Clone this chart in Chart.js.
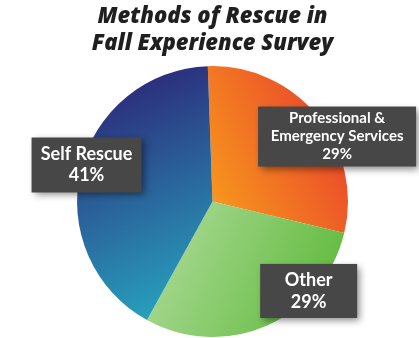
<!DOCTYPE html>
<html>
<head>
<meta charset="utf-8">
<script src="https://cdn.jsdelivr.net/npm/chart.js@4/dist/chart.umd.min.js"></script>
<style>
  html, body { margin: 0; padding: 0; background: #fff; }
  #wrap { width: 419px; height: 338px; }
</style>
</head>
<body>
<div id="wrap"><canvas id="rescueChart"></canvas></div>
<script>
const titleLines = ['Methods of Rescue in', 'Fall Experience Survey'];
const methods = ['Professional & Emergency Services', 'Other', 'Self Rescue'];
const shares = [29, 29, 41];
const boxLines = [
  ['Professional &', 'Emergency Services', '29%'],
  ['Other', '29%'],
  ['Self Rescue', '41%']
];

// gradient per slice: start/end relative to pie centre (in radii)
const sliceGradients = [
  { from: [1.0, -0.5], to: [0.0, 0.0], stops: ['#ea462b', '#f7961d'] },
  { from: [-0.2, 0.1], to: [0.9, 0.6], stops: ['#a3d68c', '#64bc41'] },
  { from: [-0.75, -0.85], to: [0.0, 0.8], stops: ['#2c2a7a', '#27a9c2'] }
];

// label boxes: centre relative to pie centre (in radii), size in px
const boxLayout = [
  { cx: 0.92, cy: -0.48, w: 158, h: 60, size: 15, lh: 18 },
  { cx: 0.71, cy: 0.66, w: 97, h: 54, size: 18, lh: 22 },
  { cx: -0.93, cy: -0.27, w: 110, h: 55, size: 18, lh: 21 }
];

function pieGeometry(chart) {
  const a = chart.chartArea;
  return {
    x: (a.left + a.right) / 2,
    y: (a.top + a.bottom) / 2,
    r: Math.min(a.right - a.left, a.bottom - a.top) / 2
  };
}

const sliceFill = (ctx) => {
  const chart = ctx.chart;
  if (!chart.chartArea) return '#999';
  const p = pieGeometry(chart);
  const g = sliceGradients[ctx.dataIndex];
  const grad = chart.ctx.createLinearGradient(
    p.x + g.from[0] * p.r, p.y + g.from[1] * p.r,
    p.x + g.to[0] * p.r, p.y + g.to[1] * p.r
  );
  grad.addColorStop(0, g.stops[0]);
  grad.addColorStop(1, g.stops[1]);
  return grad;
};

const labelBoxes = {
  id: 'labelBoxes',
  afterDatasetsDraw(chart) {
    const ctx = chart.ctx;
    const p = pieGeometry(chart);
    boxLayout.forEach((b, i) => {
      const x = p.x + b.cx * p.r;
      const y = p.y + b.cy * p.r;
      ctx.save();
      ctx.shadowColor = 'rgba(0,0,0,0.45)';
      ctx.shadowBlur = 7;
      ctx.shadowOffsetX = 3;
      ctx.shadowOffsetY = 3;
      ctx.fillStyle = '#464746';
      ctx.fillRect(x - b.w / 2, y - b.h / 2, b.w, b.h);
      ctx.restore();

      ctx.save();
      ctx.fillStyle = '#ffffff';
      ctx.font = '700 ' + b.size + 'px Lato, "Open Sans", sans-serif';
      ctx.textAlign = 'center';
      ctx.textBaseline = 'middle';
      const lines = boxLines[i];
      const top = y - (lines.length - 1) * b.lh / 2;
      lines.forEach((t, k) => ctx.fillText(t, x, top + k * b.lh));
      ctx.restore();
    });
  }
};

new Chart(document.getElementById('rescueChart'), {
  type: 'pie',
  data: {
    labels: methods,
    datasets: [{
      data: shares,
      backgroundColor: sliceFill,
      borderWidth: 0
    }]
  },
  options: {
    responsive: true,
    maintainAspectRatio: false,
    animation: false,
    rotation: -2,
    layout: { padding: { left: 77, right: 71, top: 0, bottom: 1 } },
    plugins: {
      legend: { display: false },
      tooltip: { enabled: false },
      title: {
        display: true,
        text: titleLines,
        color: '#1f1f1f',
        font: { family: '"Open Sans", sans-serif', size: 22, weight: '800', style: 'italic', lineHeight: 1.23 },
        padding: { top: 3, bottom: 9 }
      }
    }
  },
  plugins: [labelBoxes]
});
</script>
</body>
</html>
